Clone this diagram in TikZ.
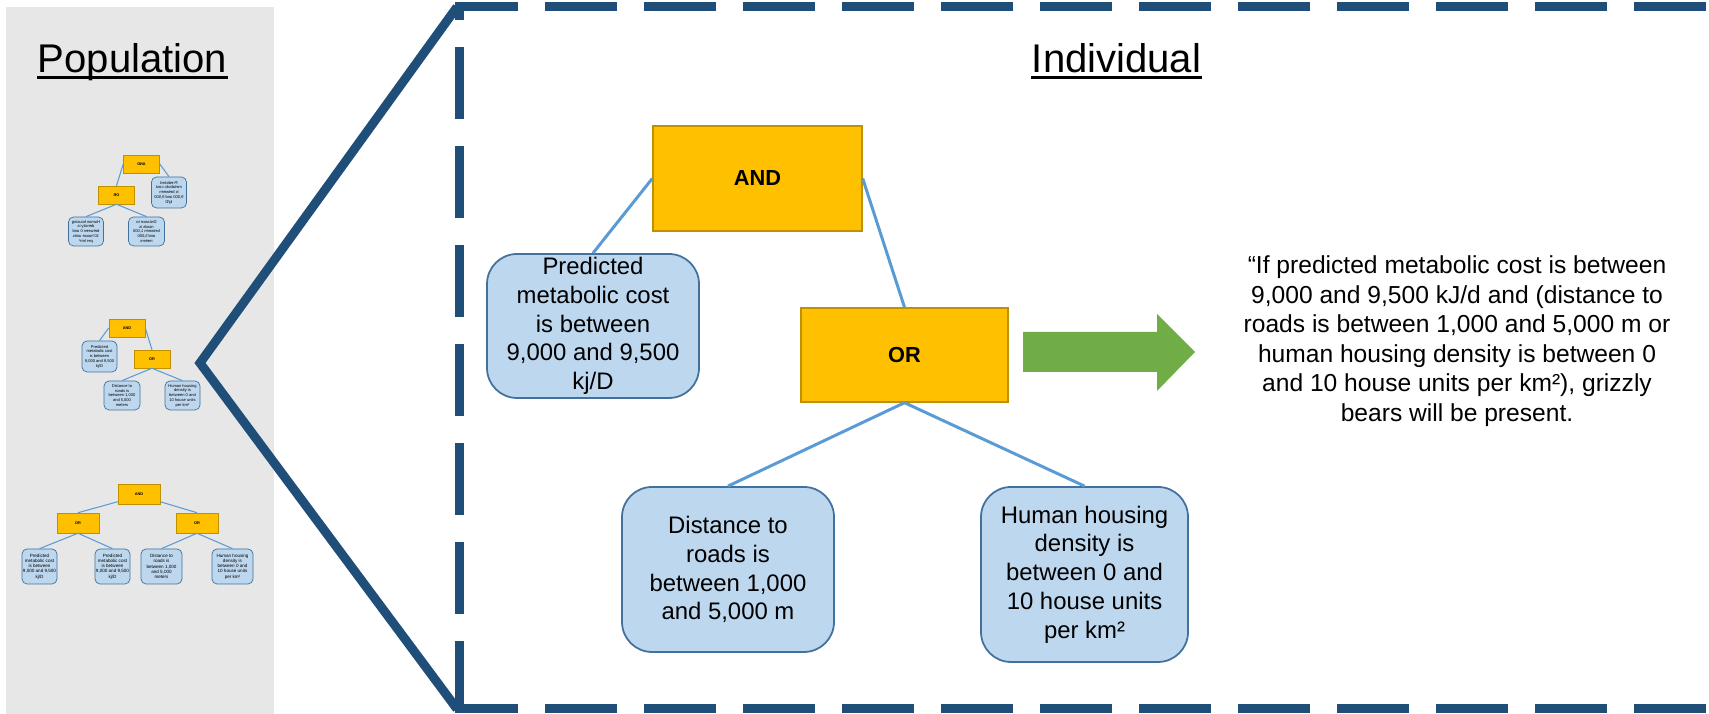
\documentclass[tikz,border=0pt]{standalone}
\usepackage{fontspec}
\setmainfont{Liberation Sans}
\definecolor{navy}{HTML}{1F4E79}
\definecolor{gold}{HTML}{FFC000}
\definecolor{goldline}{HTML}{BF9000}
\definecolor{condfill}{HTML}{BDD7EE}
\definecolor{condline}{HTML}{41719C}
\definecolor{linkblue}{HTML}{5B9BD5}
\definecolor{arrowgreen}{HTML}{70AD47}
\definecolor{panelgrey}{HTML}{E7E7E7}
\begin{document}
\begin{tikzpicture}[
  gate/.style={draw=goldline, fill=gold, line width=0.4pt, inner sep=0pt, font=\bfseries\fontsize{6.2}{7}\selectfont},
  cond/.style={draw=condline, fill=condfill, line width=0.5pt, rounded corners=0.3cm, inner sep=0pt, align=center, font=\fontsize{6.8}{8.2}\selectfont},
  link/.style={linkblue, line width=0.85pt},
  tgate/.style={draw=goldline, fill=gold, line width=0.15pt, inner sep=0pt, font=\bfseries\fontsize{1.1}{1.3}\selectfont},
  tcond/.style={draw=condline, fill=condfill, line width=0.2pt, rounded corners=0.05cm, inner sep=0pt, align=center, font=\fontsize{1.15}{1.35}\selectfont},
  tlink/.style={linkblue, line width=0.3pt},
  heading/.style={anchor=base, inner sep=0pt, font=\fontsize{11.4}{13}\selectfont},
  zoomline/.style={navy, line width=2.56pt}
]
\useasboundingbox (0,0) rectangle (17.09,7.14);
% Population panel
\fill[panelgrey] (0.06,0) rectangle (2.74,7.07);
\node[heading] (pop) at (1.325,6.41) {Population};
\draw[line width=0.8pt] ([yshift=-0.045cm]pop.base west) -- ([yshift=-0.045cm]pop.base east);
% small tree, mirrored
\begin{scope}[shift={(1.415,5.50)}, xscale=-1, transform shape]
\node[tgate, minimum width=0.36cm, minimum height=0.18cm] (a1) at (0,0) {AND};
\node[tcond, minimum width=0.35cm, minimum height=0.31cm] (p1) at (-0.275,-0.285) {Predicted\\metabolic cost\\is between\\9,000 and 9,500\\kj/D};
\node[tgate, minimum width=0.36cm, minimum height=0.18cm] (o1) at (0.25,-0.31) {OR};
\node[tcond, minimum width=0.36cm, minimum height=0.29cm] (d1) at (-0.05,-0.675) {Distance to\\roads is\\between 1,000\\and 5,000\\meters};
\node[tcond, minimum width=0.35cm, minimum height=0.29cm] (h1) at (0.555,-0.675) {Human housing\\density is\\between 0 and\\10 house units\\per km²};
\draw[tlink] (a1.west) -- (p1.north);
\draw[tlink] (a1.east) -- (o1.north);
\draw[tlink] (o1.south) -- (d1.north);
\draw[tlink] (o1.south) -- (h1.north);
\end{scope}
% small tree
\begin{scope}[shift={(1.27,3.86)}]
\node[tgate, minimum width=0.36cm, minimum height=0.18cm] (a2) at (0,0) {AND};
\node[tcond, minimum width=0.35cm, minimum height=0.31cm] (p2) at (-0.275,-0.285) {Predicted\\metabolic cost\\is between\\9,000 and 9,500\\kj/D};
\node[tgate, minimum width=0.36cm, minimum height=0.18cm] (o2) at (0.25,-0.31) {OR};
\node[tcond, minimum width=0.36cm, minimum height=0.29cm] (d2) at (-0.05,-0.675) {Distance to\\roads is\\between 1,000\\and 5,000\\meters};
\node[tcond, minimum width=0.35cm, minimum height=0.29cm] (h2) at (0.555,-0.675) {Human housing\\density is\\between 0 and\\10 house units\\per km²};
\draw[tlink] (a2.west) -- (p2.north);
\draw[tlink] (a2.east) -- (o2.north);
\draw[tlink] (o2.south) -- (d2.north);
\draw[tlink] (o2.south) -- (h2.north);
\end{scope}
% small tree, two OR gates
\node[tgate, minimum width=0.42cm, minimum height=0.20cm] (a3) at (1.39,2.20) {AND};
\node[tgate, minimum width=0.42cm, minimum height=0.20cm] (o3) at (0.78,1.91) {OR};
\node[tgate, minimum width=0.42cm, minimum height=0.20cm] (o4) at (1.97,1.91) {OR};
\node[tcond, minimum width=0.35cm, minimum height=0.35cm, font=\fontsize{1.3}{1.5}\selectfont] (p3) at (0.395,1.475) {Predicted\\metabolic cost\\is between\\9,000 and 9,500\\kj/D};
\node[tcond, minimum width=0.35cm, minimum height=0.35cm, font=\fontsize{1.3}{1.5}\selectfont] (p4) at (1.125,1.475) {Predicted\\metabolic cost\\is between\\9,000 and 9,500\\kj/D};
\node[tcond, minimum width=0.41cm, minimum height=0.35cm, font=\fontsize{1.3}{1.5}\selectfont] (d3) at (1.615,1.475) {Distance to\\roads is\\between 1,000\\and 5,000\\meters};
\node[tcond, minimum width=0.41cm, minimum height=0.35cm, font=\fontsize{1.3}{1.5}\selectfont] (h3) at (2.325,1.475) {Human housing\\density is\\between 0 and\\10 house units\\per km²};
\draw[tlink] (a3.200) -- (o3.north);
\draw[tlink] (a3.340) -- (o4.north);
\draw[tlink] (o3.south) -- (p3.north);
\draw[tlink] (o3.south) -- (p4.north);
\draw[tlink] (o4.south) -- (d3.north);
\draw[tlink] (o4.south) -- (h3.north);
% zoom frame
\draw[zoomline, line join=miter] (4.57,7.07) -- (2.00,3.51) -- (4.57,0.05);
\draw[zoomline, dash pattern=on 0.72cm off 0.27cm, dash phase=0.59cm] (4.59,7.07) -- (4.59,0.05);
\draw[zoomline, dash pattern=on 0.72cm off 0.27cm, dash phase=0.09cm] (4.55,7.07) -- (17.2,7.07);
\draw[zoomline, dash pattern=on 0.72cm off 0.27cm, dash phase=0.09cm] (4.55,0.05) -- (17.2,0.05);
% Individual
\node[heading] (ind) at (11.165,6.41) {Individual};
\draw[line width=0.8pt] ([yshift=-0.045cm]ind.base west) -- ([yshift=-0.045cm]ind.base east);
\node[gate, minimum width=2.09cm, minimum height=1.05cm] (and) at (7.575,5.355) {AND};
\node[gate, minimum width=2.07cm, minimum height=0.94cm] (or) at (9.045,3.59) {OR};
\node[cond, minimum width=2.12cm, minimum height=1.44cm] (cost) at (5.93,3.88) {Predicted\\metabolic cost\\is between\\9,000 and 9,500\\kj/D};
\node[cond, minimum width=2.12cm, minimum height=1.65cm] (roads) at (7.28,1.445) {Distance to\\roads is\\between 1,000\\and 5,000 m};
\node[cond, minimum width=2.07cm, minimum height=1.75cm] (housing) at (10.845,1.395) {Human housing\\density is\\between 0 and\\10 house units\\per km²};
\draw[link] (and.west) -- (cost.north);
\draw[link] (and.east) -- (or.north);
\draw[link] (or.south) -- (roads.north);
\draw[link] (or.south) -- (housing.north);
\fill[arrowgreen] (10.23,3.82) -- (11.57,3.82) -- (11.57,4.00) -- (11.95,3.62) -- (11.57,3.23) -- (11.57,3.42) -- (10.23,3.42) -- cycle;
\node[align=center, font=\fontsize{7}{8.4}\selectfont] (rule) at (14.57,3.73) {“If predicted metabolic cost is between\\9,000 and 9,500 kJ/d and (distance to\\roads is between 1,000 and 5,000 m or\\human housing density is between 0\\and 10 house units per km²), grizzly\\bears will be present.};
\end{tikzpicture}
\end{document}
